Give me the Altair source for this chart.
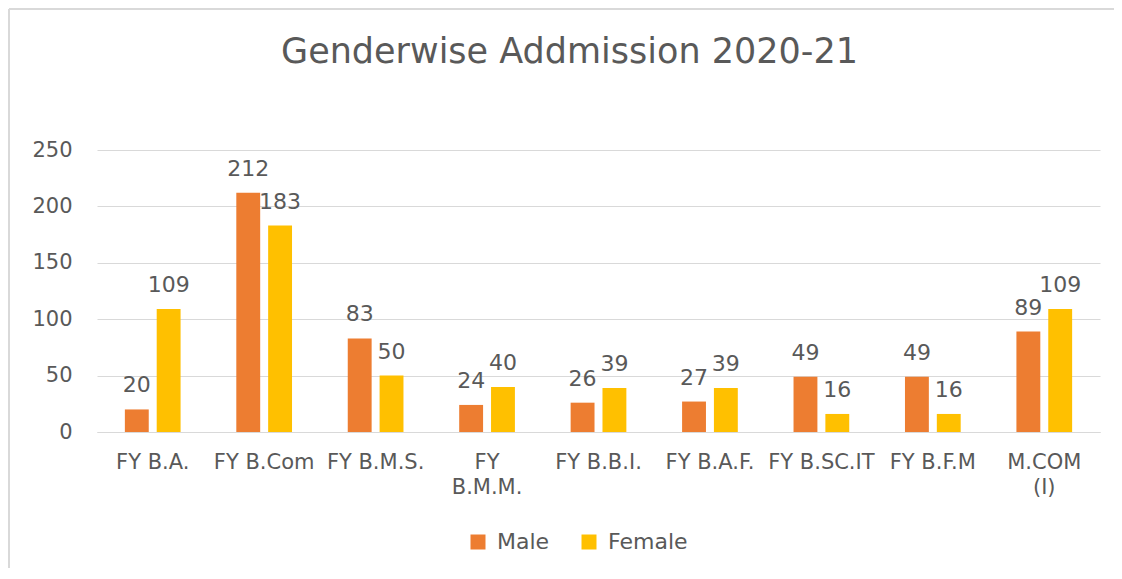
import altair as alt
import pandas as pd

categories = ["FY B.A.", "FY B.Com", "FY B.M.S.", "FY B.M.M.", "FY B.B.I.",
              "FY B.A.F.", "FY B.SC.IT", "FY B.F.M", "M.COM (I)"]
male = [20, 212, 83, 24, 26, 27, 49, 49, 89]
female = [109, 183, 50, 40, 39, 39, 16, 16, 109]
genders = ["Male", "Female"]
colors = ["#ED7D31", "#FFC000"]
y_ticks = [0, 50, 100, 150, 200, 250]
wrapped = {"FY B.M.M.": ["FY", "B.M.M."], "M.COM (I)": ["M.COM", "(I)"]}

rows = []
for c, m, f in zip(categories, male, female):
    rows.append({"category": c, "gender": "Male", "count": m})
    rows.append({"category": c, "gender": "Female", "count": f})
df = pd.DataFrame(rows)

label_expr = ""
for k, v in wrapped.items():
    label_expr += "datum.label == '%s' ? [%s] : " % (k, ", ".join("'%s'" % s for s in v))
label_expr += "datum.label"

FONT = "DejaVu Sans"
TXT = "#595959"
GRID = "#D9D9D9"

base = alt.Chart(df).encode(
    x=alt.X("category:N", sort=categories, title=None,
            scale=alt.Scale(paddingInner=0.5, paddingOuter=0.25),
            axis=alt.Axis(labelAngle=0, ticks=False, domainColor=GRID, domainWidth=1,
                          labelPadding=19, labelFontSize=21, labelFont=FONT, labelColor=TXT,
                          labelLineHeight=25, labelOverlap=False, labelLimit=0,
                          labelExpr=label_expr)),
    xOffset=alt.XOffset("gender:N", sort=genders,
                        scale=alt.Scale(paddingInner=0.25, paddingOuter=0)),
    y=alt.Y("count:Q", title=None, scale=alt.Scale(domain=[0, 250]),
            axis=alt.Axis(values=y_ticks, domain=False, ticks=False, labelPadding=25,
                          labelFontSize=21, labelFont=FONT, labelColor=TXT,
                          gridColor=GRID, gridWidth=1)),
)

bars = base.mark_bar().encode(
    color=alt.Color("gender:N", sort=genders,
                    scale=alt.Scale(domain=genders, range=colors),
                    legend=alt.Legend(title=None, orient="none", direction="horizontal",
                                      legendX=370, legendY=381, symbolType="square",
                                      symbolSize=225, symbolStrokeWidth=0,
                                      labelFontSize=22, labelFont=FONT, labelColor=TXT,
                                      labelOffset=8, columnPadding=28))
)

labels = base.mark_text(dy=-17, baseline="alphabetic", fontSize=22, font=FONT,
                        color=TXT).encode(text="count:Q")

frame = alt.Data(values=[{}])
left_border = alt.Chart(frame).mark_rule(color=GRID, strokeWidth=2).encode(
    x=alt.value(-88), y=alt.value(-141), y2=alt.value(425))
top_border = alt.Chart(frame).mark_rule(color=GRID, strokeWidth=2).encode(
    x=alt.value(-88), x2=alt.value(1017), y=alt.value(-141))

chart = alt.layer(bars, labels, left_border, top_border).properties(
    width=1003, height=282,
    background="white",
    title=alt.TitleParams("Genderwise Addmission 2020-21", fontSize=35, font=FONT,
                          fontWeight="normal", color=TXT, anchor="middle", dx=-29,
                          offset=-90, baseline="alphabetic"),
    autosize=alt.AutoSizeParams(type="none"),
    padding={"left": 89, "top": 142, "right": 14, "bottom": 136},
).configure_view(stroke="transparent", strokeWidth=0)

chart.save("out.html", embed_options={"renderer": "svg", "actions": False})
